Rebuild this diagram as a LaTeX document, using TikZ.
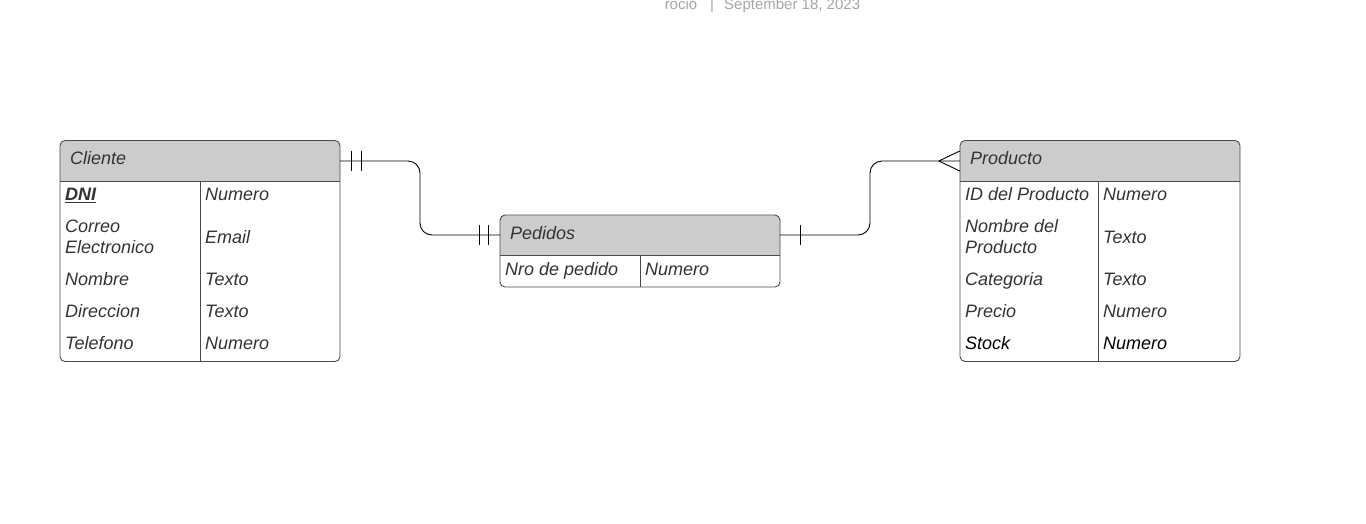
\documentclass[tikz,border=0pt]{standalone}
\usepackage{fontspec}
\setmainfont{Liberation Sans}
\usetikzlibrary{calc}
\definecolor{hdrfill}{HTML}{CCCCCC}
\definecolor{edge}{HTML}{4A4A4A}
\definecolor{txt}{HTML}{333333}
\definecolor{meta}{HTML}{A6A6A6}
\begin{document}
\begin{tikzpicture}[x=1pt,y=-1pt,
  tbl/.style={draw=edge, line width=0.9pt, rounded corners=5pt, fill=none, inner sep=0pt},
  hdr/.style={inner sep=0pt, minimum height=40pt},
  ttl/.style={anchor=base west, inner sep=0pt, font=\fontsize{18}{21}\selectfont\itshape, text=txt},
  cell/.style={anchor=base west, inner sep=0pt, align=left, font=\fontsize{18}{21}\selectfont\itshape, text=txt},
  cell2/.style={anchor=west, inner sep=0pt, align=left, font=\fontsize{18}{21}\selectfont\itshape, text=txt},
  conn/.style={draw=black, line width=0.9pt, rounded corners=12pt},
  mk/.style={draw=black, line width=0.9pt},
  metatxt/.style={inner sep=0pt, font=\fontsize{15}{17}\selectfont, text=meta}]
\useasboundingbox (0,0) rectangle (1366,523);
\fill[white] (0,0) rectangle (1366,523);

% meta line
\node[metatxt, anchor=base] (author) at (681,9) {rocio};
\node[metatxt, anchor=base] (sep) at (712,9) {|};
\node[metatxt, anchor=base west] (date) at (724,9) {September 18, 2023};

% ---------- Cliente ----------
\fill[hdrfill] (60,181) [rounded corners=5pt] -- (60,141) -- (340,141) [sharp corners] -- (340,181) -- cycle;
\node[tbl, minimum width=280pt, minimum height=221pt] (cliente) at (200,251) {};
\node[hdr, minimum width=280pt] (clienteH) at (200,161) {};
\draw[edge, line width=0.9pt] (60,181) -- (340,181);
\draw[edge, line width=0.9pt] (200,181) -- (200,361);
\node[ttl] (clienteT) at (70,164.5) {Cliente};
\node[cell] (c1a) at (65,200.5) {\underline{\textbf{DNI}}};
\node[cell] (c1b) at (205,200.5) {Numero};
\node[cell2] (c2a) at (65,237) {Correo\\Electronico};
\node[cell] (c2b) at (205,243.5) {Email};
\node[cell] (c3a) at (65,285.5) {Nombre};
\node[cell] (c3b) at (205,285.5) {Texto};
\node[cell] (c4a) at (65,317.5) {Direccion};
\node[cell] (c4b) at (205,317.5) {Texto};
\node[cell] (c5a) at (65,349.5) {Telefono};
\node[cell] (c5b) at (205,349.5) {Numero};

% ---------- Pedidos ----------
\fill[hdrfill] (500,255) [rounded corners=5pt] -- (500,215) -- (780,215) [sharp corners] -- (780,255) -- cycle;
\node[tbl, minimum width=280pt, minimum height=72pt] (pedidos) at (640,251) {};
\node[hdr, minimum width=280pt] (pedH) at (640,235) {};
\draw[edge, line width=0.9pt] (500,255) -- (780,255);
\draw[edge, line width=0.9pt] (640,255) -- (640,287);
\node[ttl] (pedT) at (510,239.5) {Pedidos};
\node[cell] (p1a) at (505,275.5) {Nro de pedido};
\node[cell] (p1b) at (645,275.5) {Numero};

% ---------- Producto ----------
\fill[hdrfill] (960,181) [rounded corners=5pt] -- (960,141) -- (1240,141) [sharp corners] -- (1240,181) -- cycle;
\node[tbl, minimum width=280pt, minimum height=221pt] (producto) at (1100,251) {};
\node[hdr, minimum width=280pt] (prodH) at (1100,161) {};
\draw[edge, line width=0.9pt] (960,181) -- (1240,181);
\draw[edge, line width=0.9pt] (1098,181) -- (1098,361);
\node[ttl] (prodT) at (970,164.5) {Producto};
\node[cell] (r1a) at (965,200.5) {ID del Producto};
\node[cell] (r1b) at (1103,200.5) {Numero};
\node[cell2] (r2a) at (965,237) {Nombre del\\Producto};
\node[cell] (r2b) at (1103,243.5) {Texto};
\node[cell] (r3a) at (965,285.5) {Categoria};
\node[cell] (r3b) at (1103,285.5) {Texto};
\node[cell] (r4a) at (965,317.5) {Precio};
\node[cell] (r4b) at (1103,317.5) {Numero};
\node[cell, text=black] (r5a) at (965,349.5) {Stock};
\node[cell, text=black] (r5b) at (1103,349.5) {Numero};

% ---------- connectors ----------
\draw[conn] (clienteH.east) -| (420,200) |- (pedH.west);
\draw[conn] (pedH.east) -| (870,200) |- (prodH.west);

% Cliente side: one and only one
\draw[mk] ($(clienteH.east)+(11,-10)$) -- ++(0,20);
\draw[mk] ($(clienteH.east)+(21,-10)$) -- ++(0,20);
% Pedidos left: one and only one
\draw[mk] ($(pedH.west)+(-20,-10)$) -- ++(0,20);
\draw[mk] ($(pedH.west)+(-11,-10)$) -- ++(0,20);
% Pedidos right: one
\draw[mk] ($(pedH.east)+(20,-10)$) -- ++(0,20);
% Producto side: many
\draw[mk] ($(prodH.west)+(-21,0)$) -- ($(prodH.west)+(0,-10)$);
\draw[mk] ($(prodH.west)+(-21,0)$) -- ($(prodH.west)+(0,10)$);
\end{tikzpicture}
\end{document}
